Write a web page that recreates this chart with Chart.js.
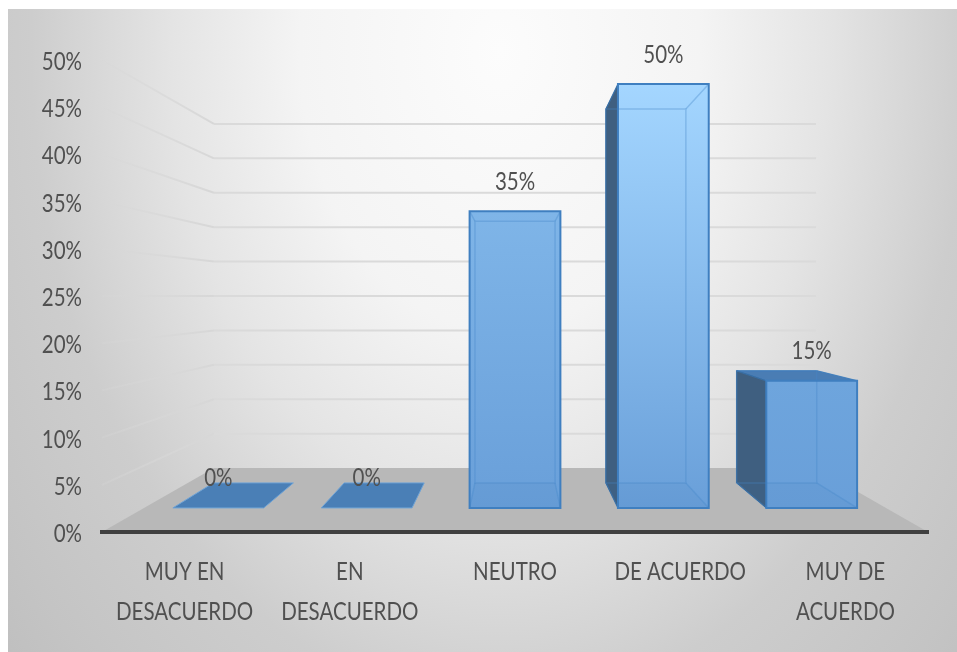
<!DOCTYPE html>
<html>
<head>
<meta charset="utf-8">
<style>
  html, body { margin: 0; background: #fff; }
  canvas { display: block; }
</style>
<script src="https://cdn.jsdelivr.net/npm/chart.js@4"></script>
</head>
<body>
<canvas id="grafico" width="957" height="652"></canvas>
<script>
const categorias = [['MUY EN', 'DESACUERDO'], ['EN', 'DESACUERDO'], 'NEUTRO', 'DE ACUERDO', ['MUY DE', 'ACUERDO']];
const porcentajes = [0, 0, 35, 50, 15];
const etiquetas = ['0%', '0%', '35%', '50%', '15%'];

const FUENTE = 'Lato, "Open Sans", sans-serif';

// perspective scale of each plane, the front of the floor being 1
const BAR_FRONT = 0.898;
const BAR_BACK = 0.792;
const WALL = 0.729;

// no condensed face is installed, so squeeze every string horizontally
const lienzo = document.getElementById('grafico').getContext('2d');
const fillTextOriginal = lienzo.fillText.bind(lienzo);
lienzo.fillText = function(texto, x, y) {
  lienzo.save();
  lienzo.translate(x, y);
  lienzo.scale(0.82, 1);
  fillTextOriginal(texto, 0, 0);
  lienzo.restore();
};

function poly(ctx, pts, fill, stroke, lw) {
  ctx.beginPath();
  pts.forEach((p, i) => i ? ctx.lineTo(p[0], p[1]) : ctx.moveTo(p[0], p[1]));
  ctx.closePath();
  if (fill) { ctx.fillStyle = fill; ctx.fill(); }
  if (stroke) { ctx.strokeStyle = stroke; ctx.lineWidth = lw; ctx.stroke(); }
}

function projector(chart) {
  const area = chart.chartArea;
  const vx = (area.left + area.right) / 2;
  const vy = (area.top + area.bottom) / 2;
  return (x, y, s) => [vx + (x - vx) * s, vy + (y - vy) * s];
}

// blend between the shadow and highlight blues, t in 0..1
function azul(t) {
  const a = [108, 164, 220], b = [164, 214, 255];
  return 'rgb(' + a.map((c, i) => Math.round(c + (b[i] - c) * t)).join(',') + ')';
}

// background panel, floor and wall lines go under the axes
const escena = {
  id: 'escena',
  beforeDraw(chart) {
    const ctx = chart.ctx;
    const area = chart.chartArea;
    const yScale = chart.scales.y;
    const p = projector(chart);

    // elliptical light, taller than it is wide
    ctx.save();
    ctx.beginPath();
    ctx.rect(8, 9, 949, 643);
    ctx.clip();
    ctx.translate(500, 50);
    ctx.scale(1, 1.4);
    const fondo = ctx.createRadialGradient(0, 0, 0, 0, 0, 700);
    fondo.addColorStop(0, '#fcfcfc');
    fondo.addColorStop(0.286, '#f4f4f4');
    fondo.addColorStop(0.47, '#e4e4e4');
    fondo.addColorStop(0.67, '#cdcdcd');
    fondo.addColorStop(0.857, '#c4c4c4');
    fondo.addColorStop(1, '#bcbcbc');
    ctx.fillStyle = fondo;
    ctx.fillRect(-600, -100, 1200, 700);
    ctx.restore();

    yScale.ticks.forEach(t => {
      if (t.value === 0) return;
      const y = yScale.getPixelForValue(t.value);
      const a = p(area.left, y, 1);
      const b = p(area.left, y, WALL);
      const c = p(area.right, y, WALL);
      const sesgo = ctx.createLinearGradient(a[0], 0, b[0], 0);
      sesgo.addColorStop(0, 'rgba(215,215,215,0.25)');
      sesgo.addColorStop(1, 'rgba(215,215,215,1)');
      ctx.lineWidth = 2;
      ctx.strokeStyle = sesgo;
      ctx.beginPath();
      ctx.moveTo(a[0], a[1]);
      ctx.lineTo(b[0], b[1]);
      ctx.stroke();
      ctx.strokeStyle = '#dadada';
      ctx.beginPath();
      ctx.moveTo(b[0], b[1]);
      ctx.lineTo(c[0], c[1]);
      ctx.stroke();
    });

    const y0 = yScale.getPixelForValue(0);
    poly(ctx, [p(area.left, y0, 1), p(area.right, y0, 1), p(area.right, y0, WALL), p(area.left, y0, WALL)], '#b8b8b8');
  }
};

// 3D boxes built from the bar elements Chart.js has laid out
const cajas = {
  id: 'cajas',
  afterDatasetsDraw(chart) {
    const ctx = chart.ctx;
    const yScale = chart.scales.y;
    const p = projector(chart);
    const y0 = yScale.getPixelForValue(0);
    const vy = (chart.chartArea.top + chart.chartArea.bottom) / 2;
    const arista = 'rgba(70,135,200,0.35)';

    chart.getDatasetMeta(0).data.forEach((bar, i) => {
      const l = bar.x - bar.width / 2;
      const r = bar.x + bar.width / 2;
      const top = bar.y;
      const fbl = p(l, y0, BAR_FRONT), fbr = p(r, y0, BAR_FRONT);
      const ftl = p(l, top, BAR_FRONT), ftr = p(r, top, BAR_FRONT);
      const bbl = p(l, y0, BAR_BACK), bbr = p(r, y0, BAR_BACK);
      const btl = p(l, top, BAR_BACK), btr = p(r, top, BAR_BACK);

      if (porcentajes[i] === 0) {
        poly(ctx, [fbl, fbr, bbr, bbl], '#4a7fb6', '#6ea3d6', 1);
      } else {
        const exterior = bbl[0] < fbl[0];
        const sobreOjo = top < vy;
        const tono = Math.pow(porcentajes[i] / 50, 3);

        poly(ctx, [ftl, ftr, btr, btl], sobreOjo ? azul(Math.min(1, tono + 0.3)) : '#4a7db4', sobreOjo ? null : '#3f78b2', 1);
        poly(ctx, [fbl, ftl, btl, bbl], exterior ? '#3f5f80' : azul(tono), exterior ? '#2f5f8f' : null, 1);

        const frente = ctx.createLinearGradient(0, ftl[1], 0, fbl[1]);
        frente.addColorStop(0, azul(tono));
        frente.addColorStop(1, '#699fd9');
        poly(ctx, [ftl, ftr, fbr, fbl], frente);

        // floor of the box and inner edges seen through the front
        poly(ctx, [fbl, fbr, bbr, bbl], 'rgba(60,110,170,0.07)');
        poly(ctx, [btl, btr, bbr, bbl], null, arista, 1.5);
        [[ftl, btl], [ftr, btr], [fbl, bbl], [fbr, bbr]].forEach(e => {
          poly(ctx, e, null, arista, 1.5);
        });
        poly(ctx, [ftl, ftr, fbr, fbl], null, '#3f7fc0', 2);
      }

      ctx.font = '25px ' + FUENTE;
      ctx.fillStyle = '#505050';
      ctx.textAlign = 'center';
      ctx.textBaseline = 'middle';
      ctx.fillText(etiquetas[i], ftl[0] / 2 + ftr[0] / 2, ftl[1] - 29.5);
    });
  }
};

new Chart(document.getElementById('grafico'), {
  type: 'bar',
  data: {
    labels: categorias,
    datasets: [{
      data: porcentajes,
      backgroundColor: 'rgba(0,0,0,0)',
      barPercentage: 0.612,
      categoryPercentage: 1
    }]
  },
  options: {
    responsive: false,
    animation: false,
    layout: { autoPadding: false, padding: { top: 60, right: 29 } },
    plugins: { legend: { display: false }, tooltip: { enabled: false } },
    scales: {
      x: {
        grid: { display: false, drawTicks: false },
        border: { color: '#404040', width: 4 },
        afterFit(axis) { axis.height = 120; },
        ticks: {
          maxRotation: 0,
          autoSkip: false,
          padding: 20,
          color: '#505050',
          font: { family: FUENTE, size: 25, lineHeight: 1.6 }
        }
      },
      y: {
        min: 0,
        max: 50,
        grid: { display: false, drawTicks: false },
        border: { display: false },
        afterFit(axis) { axis.width = 102; },
        ticks: {
          stepSize: 5,
          padding: 20,
          labelOffset: 2,
          color: '#505050',
          font: { family: FUENTE, size: 25 },
          callback: v => v + '%'
        }
      }
    }
  },
  plugins: [escena, cajas]
});
</script>
</body>
</html>
